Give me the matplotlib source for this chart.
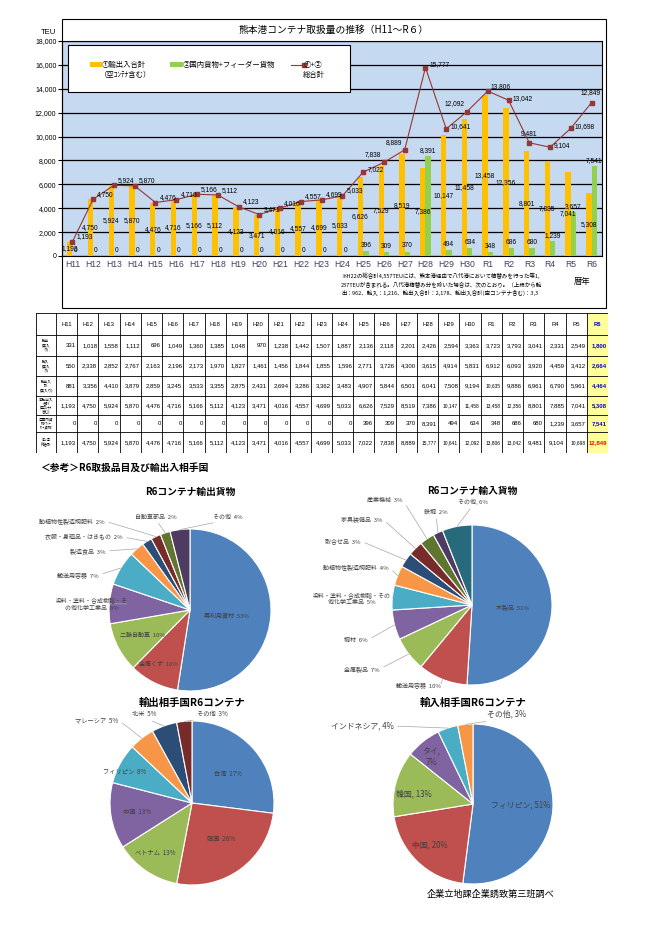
import matplotlib
matplotlib.use("Agg")
import matplotlib.pyplot as plt
from matplotlib.patches import Rectangle
from matplotlib.lines import Line2D
import numpy as np

plt.rcParams["font.family"] = ["Noto Sans CJK JP", "DejaVu Sans"]

W, H = 645, 941
NUM = ["Liberation Sans", "DejaVu Sans"]

# ---------------- data ----------------
years = ["H11", "H12", "H13", "H14", "H15", "H16", "H17", "H18", "H19", "H20",
         "H21", "H22", "H23", "H24", "H25", "H26", "H27", "H28", "H29", "H30",
         "R1", "R2", "R3", "R4", "R5", "R6"]
exports = [331, 1018, 1558, 1112, 696, 1049, 1360, 1385, 1048, 970, 1238, 1442, 1507,
           1887, 2136, 2118, 2201, 2426, 2594, 3363, 3723, 3793, 3041, 2331, 2549, 1800]
imports = [550, 2338, 2852, 2767, 2163, 2196, 2173, 1970, 1827, 1461, 1456, 1844, 1855,
           1596, 2771, 3726, 4300, 3615, 4914, 5831, 6912, 6093, 3920, 4459, 3412, 2664]
loaded_total = [881, 3356, 4410, 3879, 2859, 3245, 3533, 3355, 2875, 2431, 2694, 3286, 3362,
                3483, 4907, 5844, 6501, 6041, 7508, 9194, 10635, 9886, 6961, 6790, 5961, 4464]
total_incl_empty = [1193, 4750, 5924, 5870, 4476, 4716, 5166, 5112, 4123, 3471, 4016, 4557, 4699,
                    5033, 6626, 7529, 8519, 7386, 10147, 11458, 13458, 12356, 8801, 7885, 7041, 5308]
domestic_feeder = [0, 0, 0, 0, 0, 0, 0, 0, 0, 0, 0, 0, 0,
                   0, 396, 309, 370, 8391, 494, 634, 348, 686, 680, 1239, 3657, 7541]
grand_total = [1193, 4750, 5924, 5870, 4476, 4716, 5166, 5112, 4123, 3471, 4016, 4557, 4699,
               5033, 7022, 7838, 8889, 15777, 10641, 12092, 13806, 13042, 9481, 9104, 10698, 12849]

row_names = ["輸出\n(実入\nり)", "輸入\n(実入\nり)", "輸出入\n計\n(実入り)",
             "①輸出入\n合計\n(空ｺﾝﾃﾅ\n含む)", "②国内貨\n物･ﾌｨｰ\nﾀﾞｰ貨物", "①+②\n総合計"]

exp_goods = ["再利用資材", "金属くず", "二輪自動車", "染料・塗料・合成樹脂・そ\nの他化学工業品",
             "輸送用容器", "製造食品", "衣服・身廻品・はきもの", "動植物性製造飼肥料",
             "自動車部品", "その他"]
exp_goods_pct = [53, 10, 10, 8, 7, 3, 2, 2, 2, 4]

imp_goods = ["木製品", "輸送用容器", "金属製品", "鋼材", "染料・塗料・合成樹脂・その\n他化学工業品",
             "動植物性製造飼肥料", "取合せ品", "家具装備品", "産業機械", "鉄鋼", "その他,"]
imp_goods_pct = [51, 10, 7, 6, 5, 4, 3, 3, 3, 2, 6]

exp_countries = ["台湾", "韓国", "ベトナム", "中国", "フィリピン", "マレーシア", "北米", "その他"]
exp_countries_pct = [27, 26, 13, 13, 8, 5, 5, 3]

imp_countries = ["フィリピン", "中国", "韓国", "タイ", "インドネシア", "その他"]
imp_countries_pct = [51, 20, 13, 7, 4, 3]

pie_colors = ["#4F81BD", "#C0504D", "#9BBB59", "#8064A2", "#4BACC6", "#F79646",
              "#2C4D75", "#772C2A", "#5F7530", "#4D3B62", "#276A7C"]

fig = plt.figure(figsize=(6.45, 9.41), dpi=100)


def px_axes(x0, y0, x1, y1):
    return fig.add_axes([x0 / W, 1 - y1 / H, (x1 - x0) / W, (y1 - y0) / H])


def ftext(x, y, s, **kw):
    fig.text(x / W, 1 - y / H, s, **kw)


def frect(x0, y0, x1, y1, **kw):
    fig.add_artist(Rectangle((x0 / W, 1 - y1 / H), (x1 - x0) / W, (y1 - y0) / H,
                             transform=fig.transFigure, **kw))


# ---------------- top chart ----------------
frect(62, 19, 606, 308, fill=False, ec="black", lw=0.8)
ftext(334, 30, "熊本港コンテナ取扱量の推移（H11～R６）", ha="center", va="center", fontsize=7)
ftext(48, 33, "TEU", ha="center", va="center", fontsize=5.5, family=NUM)

ax = px_axes(62, 41, 602, 256)
ax.set_facecolor("#C5D9F1")
x = np.arange(len(years))
bw = 0.26
ax.bar(x - bw / 2, total_incl_empty, bw, color="#FFC000", zorder=3)
ax.bar(x + bw / 2, domestic_feeder, bw, color="#92D050", zorder=3)
ax.plot(x, grand_total, color="#953735", lw=0.8, marker="s", ms=3, zorder=4)
ax.set_xlim(-0.5, len(years) - 0.5)
ax.set_ylim(0, 18000)
ax.set_yticks(range(0, 18001, 2000))
ax.set_yticklabels([f"{v:,}" for v in range(0, 18001, 2000)], fontsize=5, family=NUM)
ax.set_xticks(x)
ax.set_xticklabels(years, fontsize=6.2, color="#3F4060", family=NUM)
ax.tick_params(axis="x", length=0, pad=3)
ax.tick_params(axis="y", length=3, pad=1, width=0.8)
ax.yaxis.grid(True, color="black", lw=0.9, zorder=1)
ax.set_axisbelow(True)
for s in ax.spines.values():
    s.set_linewidth(0.8)

for i in x:
    ax.text(i - bw / 2, total_incl_empty[i] / 2, f"{total_incl_empty[i]:,}", ha="center",
            va="center", fontsize=4.8, family=NUM, zorder=5)
    ax.annotate(f"{domestic_feeder[i]:,}", (i + bw / 2, domestic_feeder[i]), xytext=(0, 1.5),
                textcoords="offset points", ha="center", va="bottom", fontsize=4.8,
                family=NUM, zorder=5)

# label offsets for the total line (points)
right = (3, 1, "left")
line_lab_off = [right] * 14 + [(3, -1, "left"), (-2, 3, "right"), (-2, 3, "right"),
                               (3, 0, "left"), (3, -1, "left"), (-2, 3, "right"),
                               (2, 1, "left"), (3, -1, "left"), (0, 4, "center"),
                               (3, -1, "left"), (3, -1, "left"), (-1, 5, "center")]
for i in x:
    dx, dy, ha = line_lab_off[i]
    ax.annotate(f"{grand_total[i]:,}", (i, grand_total[i]), xytext=(dx, dy),
                textcoords="offset points", ha=ha, va="bottom", fontsize=4.8,
                family=NUM, zorder=6)

# legend
frect(68, 45, 350, 92, fc="white", ec="black", lw=0.8, zorder=5)
frect(90, 62, 102, 67, fc="#FFC000", ec="none", zorder=6)
ftext(102, 65, "①輸出入合計", va="center", fontsize=5.3, zorder=6)
ftext(126, 75, "（空ｺﾝﾃﾅ含む）", va="center", ha="center", fontsize=5.3, zorder=6)
frect(170, 62, 183, 67, fc="#92D050", ec="none", zorder=6)
ftext(183, 65, "②国内貨物+フィーダー貨物", va="center", fontsize=5.3, zorder=6)
fig.add_artist(Line2D([291 / W, 304 / W], [1 - 65 / H, 1 - 65 / H], color="#953735", lw=0.8,
                      marker="s", ms=3, markevery=[1], transform=fig.transFigure, zorder=6))
ftext(304, 65, "①+②", va="center", fontsize=5.3, zorder=6)
ftext(314, 75, "総合計", va="center", ha="center", fontsize=5.3, zorder=6)

ftext(341, 284,
      "※H22の総合計4,557TEUには、熊本港経由で八代港において積替みを行った等1,\n"
      "237TEUが含まれる。八代港積替み分を除いた場合は、次のとおり。（上段から輸\n"
      "出：962、輸入：1,216、輸出入合計：2,178、輸出入合計(空コンテナ含む)：3,3",
      va="center", fontsize=4.0, linespacing=1.5)
ftext(582, 281, "暦年", va="center", ha="center", fontsize=6)

# ---------------- table ----------------
t0, t1 = 313, 453
tab = px_axes(36, t0, 608, t1)
tab.set_xlim(36, 608)
tab.set_ylim(t1, t0)
tab.axis("off")
col_edges = np.concatenate([[36], np.linspace(56, 608, len(years) + 1)])
row_edges = [313, 335, 356, 376, 396, 415, 432, 453]
tab.add_patch(Rectangle((col_edges[-2], t0), col_edges[-1] - col_edges[-2], t1 - t0,
                        color="#FFFF99", zorder=0))
for xe in col_edges:
    tab.plot([xe, xe], [t0, t1], color="black", lw=0.6)
for ye in row_edges:
    tab.plot([36, 608], [ye, ye], color="black", lw=0.6)

table_rows = [exports, imports, loaded_total, total_incl_empty, domestic_feeder, grand_total]
for j, yr in enumerate(years):
    xc = (col_edges[j + 1] + col_edges[j + 2]) / 2
    last = j == len(years) - 1
    tab.text(xc, (row_edges[0] + row_edges[1]) / 2, yr, ha="center", va="center",
             fontsize=4.2, family=NUM, color="#0000CC" if last else "black",
             fontweight="bold" if last else "normal")
for r, (name, vals) in enumerate(zip(row_names, table_rows)):
    yc = (row_edges[r + 1] + row_edges[r + 2]) / 2
    tab.text((col_edges[0] + col_edges[1]) / 2, yc, name, ha="center", va="center",
             fontsize=2.6, linespacing=1.05)
    for j, v in enumerate(vals):
        last = j == len(vals) - 1
        color = "black"
        if last:
            color = "#FF0000" if r == len(table_rows) - 1 else "#0000CC"
        tab.text(col_edges[j + 2] - 1.2, yc, f"{v:,}", ha="right", va="center",
                 fontsize=3.5 if v >= 10000 and not last else 4.3, family=NUM, color=color,
                 fontweight="bold" if last else "normal")

# ---------------- pies ----------------
ftext(40, 468, "＜参考＞R6取扱品目及び輸出入相手国", va="center", fontsize=7, fontweight="bold")


def draw_pie(cx, cy, r, names, pcts, label_px, n_inside, fs, seps, title, title_y, title_fs,
             label_color="#404040"):
    hw, hh = 2.0 * r, 1.45 * r
    pa = px_axes(cx - hw, cy - hh, cx + hw, cy + hh)
    pa.pie(pcts, colors=pie_colors[:len(pcts)], startangle=90, counterclock=False,
           wedgeprops=dict(edgecolor="white", linewidth=0.8))
    pa.set_aspect("auto")
    pa.set_xlim(-hw / r, hw / r)
    pa.set_ylim(-hh / r, hh / r)
    pa.axis("off")
    total = sum(pcts)
    cum = 0
    for i, (nm, p) in enumerate(zip(names, pcts)):
        mid = np.deg2rad(90 - 360 * (cum + p / 2) / total)
        cum += p
        px, py = label_px[i]
        tx, ty = (px - cx) / r, (cy - py) / r
        txt = f"{nm}{seps[i]}{p}%"
        if i < n_inside:
            pa.text(tx, ty, txt, ha="center", va="center", fontsize=fs, color=label_color,
                    linespacing=1.3)
            continue
        if py < cy - 1.05 * r and abs(px - cx) < 0.8 * r:
            rel = (0.5, 0)
        elif px < cx:
            rel = (1, 0.5)
        else:
            rel = (0, 0.5)
        pa.annotate(txt, (np.cos(mid), np.sin(mid)), xytext=(tx, ty), ha="center", va="center",
                    fontsize=fs, color=label_color, linespacing=1.3, annotation_clip=False,
                    arrowprops=dict(arrowstyle="-", color="#A6A6A6", lw=0.5, shrinkA=1,
                                    shrinkB=0, relpos=rel))
    ftext(cx, title_y, title, ha="center", va="center", fontsize=title_fs, fontweight="bold")


draw_pie(190, 610, 81, exp_goods, exp_goods_pct,
         [(226, 615), (158, 664), (142, 635), (92, 604), (78, 575), (88, 551),
          (84, 537), (72, 521), (156, 517), (228, 517)],
         3, 4.3, ["  "] * 10, "R6コンテナ輸出貨物", 492, 7)

draw_pie(472, 605, 80, imp_goods, imp_goods_pct,
         [(512, 607), (418, 685), (362, 669), (356, 640), (352, 599), (356, 567),
          (343, 541), (362, 519), (385, 500), (436, 512), (473, 502)],
         1, 4.3, ["  "] * 10 + [" "], "R6コンテナ輸入貨物", 491, 7)

draw_pie(192, 803, 82, exp_countries, exp_countries_pct,
         [(228, 774), (221, 839), (155, 853), (137, 812), (125, 772), (97, 720),
          (144, 714), (212, 714)],
         5, 4.5, ["  "] * 8, "輸出相手国R6コンテナ", 703, 7.5)

draw_pie(473, 804, 80, imp_countries, imp_countries_pct,
         [(521, 805), (430, 845), (414, 794), (431, 757), (362, 726), (507, 714)],
         4, 5.7, [", ", ", ", ", ", ",\n", ", ", ", "], "輸入相手国R6コンテナ", 703, 7.5)

ftext(491, 894, "企業立地課企業誘致第三班調べ", ha="center", va="center", fontsize=6.6)

fig.savefig("out.png", dpi=100)
